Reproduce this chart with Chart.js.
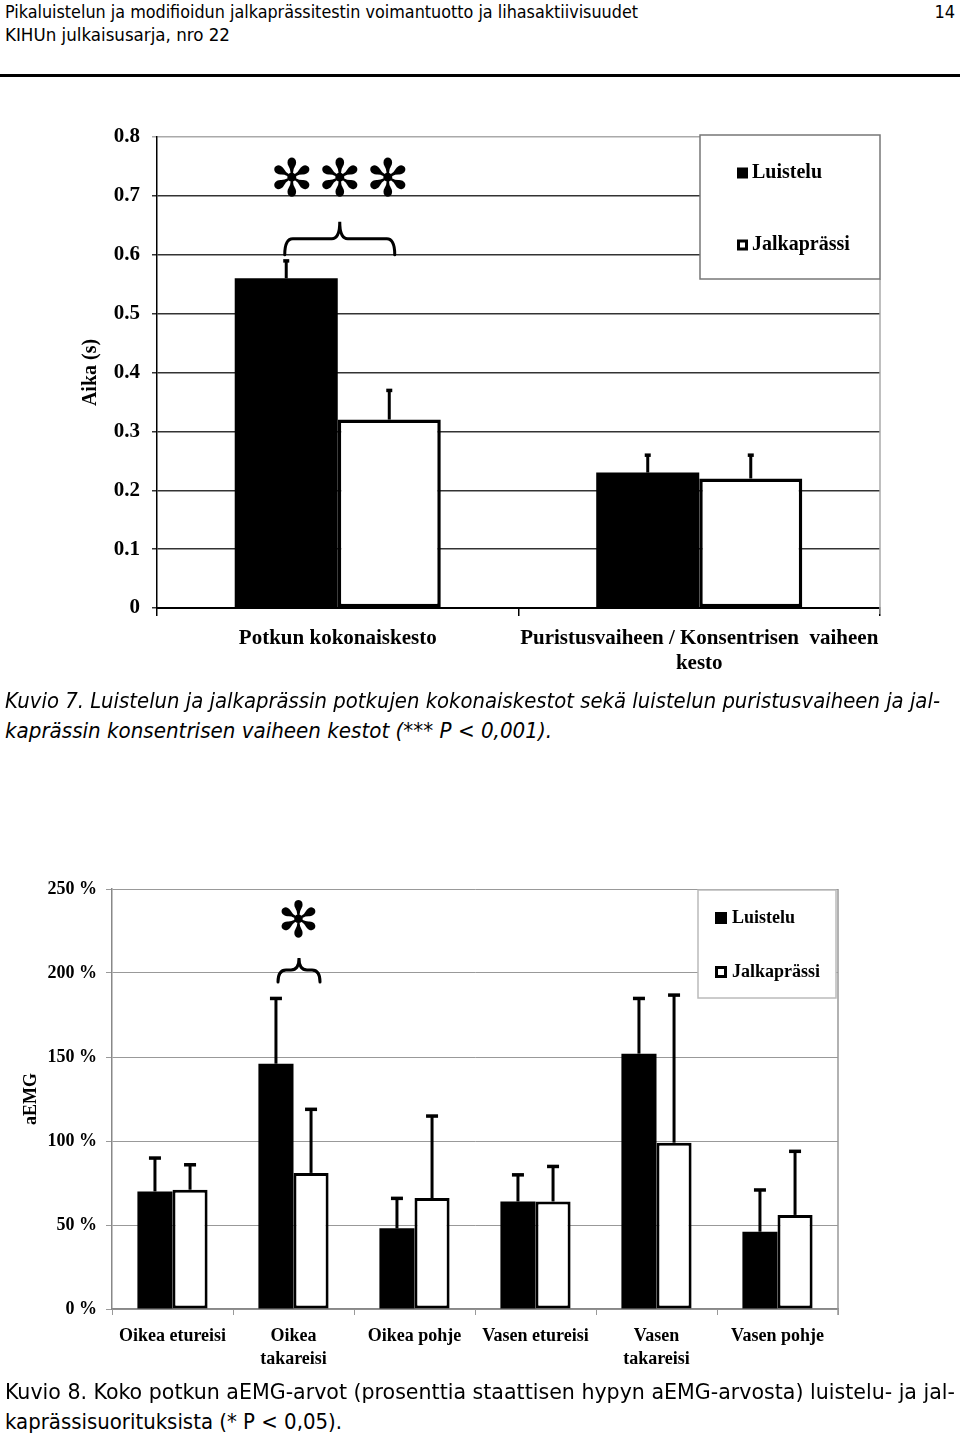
<!DOCTYPE html>
<html lang="fi">
<head>
<meta charset="utf-8">
<title>Kuvio 7 ja 8</title>
<script src="https://cdn.jsdelivr.net/npm/chart.js@4.4.1/dist/chart.umd.min.js"></script>
<style>
  html, body { margin: 0; padding: 0; background: #fff; }
  body { position: relative; width: 960px; height: 1440px; overflow: hidden; color: #000;
         font-family: "DejaVu Sans Condensed", "Liberation Sans Narrow", "DejaVu Sans", sans-serif; }
  .rivi { position: absolute; white-space: nowrap; transform-origin: 0 0; }
  .viiva { position: absolute; left: 0; top: 74px; width: 960px; height: 3px; background: #000; }
  .kuva { position: absolute; left: 0; }
</style>
</head>
<body>
<div class="rivi" data-w="633" style="left:5px;top:3px;font-size:18px;line-height:18px">Pikaluistelun ja modifioidun jalkaprässitestin voimantuotto ja lihasaktiivisuudet</div>
<div class="rivi" style="right:5px;top:3px;font-size:18px;line-height:18px">14</div>
<div class="rivi" data-w="225" style="left:5px;top:26px;font-size:18px;line-height:18px">KIHUn julkaisusarja, nro 22</div>
<div class="viiva"></div>

<canvas id="kuvio7" class="kuva" style="top:112px" width="960" height="580"></canvas>

<div class="rivi" data-w="935" style="left:5px;top:691px;font-size:21px;line-height:21px;font-style:italic">Kuvio 7. Luistelun ja jalkaprässin potkujen kokonaiskestot sekä luistelun puristusvaiheen ja jal-</div>
<div class="rivi" data-w="547" style="left:5px;top:721px;font-size:21px;line-height:21px;font-style:italic">kaprässin konsentrisen vaiheen kestot (*** P &lt; 0,001).</div>

<canvas id="kuvio8" class="kuva" style="top:862px" width="960" height="520"></canvas>

<div class="rivi" data-w="950" style="left:5px;top:1382px;font-size:21px;line-height:21px">Kuvio 8. Koko potkun aEMG-arvot (prosenttia staattisen hypyn aEMG-arvosta) luistelu- ja jal-</div>
<div class="rivi" data-w="337" style="left:5px;top:1412px;font-size:21px;line-height:21px">kaprässisuorituksista (* P &lt; 0,05).</div>

<script>
// Kuvio 7: kestot (s)
const kategoriat1 = ["Potkun kokonaiskesto", ["Puristusvaiheen / Konsentrisen  vaiheen", "kesto"]];
const luistelu1 = [0.56, 0.23];
const jalka1 = [0.32, 0.22];
const luisteluVirhe1 = [0.03, 0.03];
const jalkaVirhe1 = [0.05, 0.04];
const yTicks1 = ["0", "0.1", "0.2", "0.3", "0.4", "0.5", "0.6", "0.7", "0.8"];

// Kuvio 8: aEMG (%)
const kategoriat2 = ["Oikea etureisi", ["Oikea", "takareisi"], "Oikea pohje", "Vasen etureisi", ["Vasen", "takareisi"], "Vasen pohje"];
const luistelu2 = [70, 146, 48, 64, 152, 46];
const jalka2 = [71, 81, 66, 64, 99, 56];
const luisteluVirhe2 = [20, 39, 18, 16, 33, 25];
const jalkaVirhe2 = [15, 38, 49, 21, 88, 38];
const yTicks2 = ["0 %", "50 %", "100 %", "150 %", "200 %", "250 %"];

const serif = "Liberation Serif";

// rivien sovitus alkuperäiseen leveyteen
document.querySelectorAll(".rivi[data-w]").forEach(el => {
  const w = el.getBoundingClientRect().width;
  el.style.transform = "scaleX(" + (el.dataset.w / w) + ")";
});

function sulku(ctx, cx, half, yEnd, yFlat, yPeak) {
  const r = Math.min(8, yEnd - yFlat);
  ctx.beginPath();
  ctx.moveTo(cx - half, yEnd);
  ctx.quadraticCurveTo(cx - half, yFlat, cx - half + r, yFlat);
  ctx.lineTo(cx - r, yFlat);
  ctx.quadraticCurveTo(cx, yFlat, cx, yPeak);
  ctx.quadraticCurveTo(cx, yFlat, cx + r, yFlat);
  ctx.lineTo(cx + half - r, yFlat);
  ctx.quadraticCurveTo(cx + half, yFlat, cx + half, yEnd);
  ctx.stroke();
}

// virhepalkit, selite, sulku ja tähdet
const merkinnat = {
  id: "merkinnat",
  beforeDatasetsDraw(chart, args, o) {
    const { ctx, chartArea: a } = chart;
    ctx.save();
    ctx.strokeStyle = o.reunaVari;
    ctx.lineWidth = 1.5;
    ctx.beginPath();
    ctx.moveTo(a.right, a.top + o.reunaAlku);
    ctx.lineTo(a.right, a.bottom + 6);
    ctx.stroke();
    ctx.restore();
  },
  afterDatasetsDraw(chart, args, o) {
    const { ctx } = chart;
    const y = chart.scales.y;
    ctx.save();
    ctx.strokeStyle = "#000";
    ctx.fillStyle = "#000";
    ctx.lineWidth = o.virheLeveys;
    chart.data.datasets.forEach((ds, i) => {
      chart.getDatasetMeta(i).data.forEach((bar, j) => {
        const yt = y.getPixelForValue(ds.data[j] + ds.virhe[j]);
        ctx.beginPath();
        ctx.moveTo(bar.x, bar.y);
        ctx.lineTo(bar.x, yt);
        ctx.stroke();
        ctx.fillRect(bar.x - o.hattu, yt - 1.5, o.hattu * 2, 3.5);
      });
    });
    ctx.restore();
  },
  afterDraw(chart, args, o) {
    const { ctx, chartArea: a } = chart;
    const x = chart.scales.x, y = chart.scales.y;
    const s = o.selite;
    ctx.save();
    // selite
    const bx = a.right - s.oikea - s.w, by = a.top + s.dy;
    ctx.fillStyle = "#fff";
    ctx.fillRect(bx, by, s.w, s.h);
    ctx.strokeStyle = s.reuna;
    ctx.lineWidth = 1.5;
    ctx.strokeRect(bx, by, s.w, s.h);
    ctx.font = "bold " + s.koko + "px " + serif;
    ctx.textBaseline = "middle";
    ctx.textAlign = "left";
    chart.data.datasets.forEach((ds, i) => {
      const cy = by + s.rivit[i];
      const rx = bx + s.ruutuX;
      if (i === 0) {
        ctx.fillStyle = "#000";
        ctx.fillRect(rx, cy - s.ruutu / 2, s.ruutu, s.ruutu);
      } else {
        ctx.strokeStyle = "#000";
        ctx.lineWidth = 3;
        ctx.strokeRect(rx + 1.5, cy - s.ruutu / 2 + 1.5, s.ruutu - 3, s.ruutu - 3);
      }
      ctx.fillStyle = "#000";
      ctx.fillText(ds.label, bx + s.tekstiX, cy);
    });
    // sulku
    const b = o.sulku;
    const cx = x.getPixelForValue(b.indeksi) + b.dx;
    const yEnd = y.getPixelForValue(b.arvo);
    ctx.strokeStyle = "#000";
    ctx.lineWidth = 3;
    ctx.lineCap = "round";
    sulku(ctx, cx, b.puoli, yEnd, yEnd - b.nousu1, yEnd - b.nousu2);
    // tähdet
    const t = o.tahdet;
    ctx.font = t.koko + "px 'DejaVu Sans'";
    ctx.textAlign = "center";
    ctx.textBaseline = "middle";
    ctx.fillStyle = "#000";
    const ty = y.getPixelForValue(t.arvo);
    t.siirrot.forEach(d => ctx.fillText("\u273B", x.getPixelForValue(b.indeksi) + t.dx + d, ty));
    ctx.restore();
  }
};

new Chart(document.getElementById("kuvio7"), {
  type: "bar",
  data: {
    labels: kategoriat1,
    datasets: [
      { label: "Luistelu", data: luistelu1, virhe: luisteluVirhe1, backgroundColor: "#000", borderWidth: 0 },
      { label: "Jalkaprässi", data: jalka1, virhe: jalkaVirhe1, backgroundColor: "#fff",
        borderColor: "#000", borderWidth: 3.5, borderSkipped: false }
    ]
  },
  options: {
    responsive: false,
    animation: false,
    layout: { padding: { top: 25, right: 80, bottom: 0, left: 0 } },
    datasets: { bar: { categoryPercentage: 0.57, barPercentage: 1 } },
    plugins: {
      legend: { display: false },
      tooltip: { enabled: false },
      merkinnat: {
        reunaVari: "#aaa", reunaAlku: 142, virheLeveys: 3, hattu: 3,
        selite: { w: 180, h: 144, oikea: 0, dy: -2, reuna: "#777", koko: 20, ruutu: 11,
                  ruutuX: 37, tekstiX: 52, rivit: [38, 110] },
        sulku: { indeksi: 0, dx: 2, puoli: 55, arvo: 0.6, nousu1: 16, nousu2: 33 },
        tahdet: { koko: 52, arvo: 0.722, dx: 2, siirrot: [-48, 0, 48] }
      }
    },
    scales: {
      x: {
        grid: { drawOnChartArea: false, tickLength: 8, lineWidth: 1.5,
                color: c => (c.index === 2 ? "#aaa" : "#000") },
        border: { color: "#000", width: 2 },
        ticks: { color: "#000", padding: 11, maxRotation: 0, autoSkip: false,
                 font: { family: serif, size: 21, weight: "bold", lineHeight: 1.15 } },
        afterFit: s => { s.height = 84; }
      },
      y: {
        min: 0, max: 0.8,
        grid: { tickLength: 5, lineWidth: 1.5,
                color: c => (c.tick && c.tick.value > 0.75 ? "#aaa" : "#333") },
        border: { color: "#000", width: 1.5 },
        ticks: { stepSize: 0.1, padding: 12, color: "#000", callback: (v, i) => yTicks1[i],
                 font: { family: serif, size: 21, weight: "bold" } },
        title: { display: true, text: "Aika (s)", color: "#000", padding: { top: 78.5, bottom: 0 },
                 font: { family: serif, size: 20, weight: "bold", lineHeight: 1.2 } },
        afterFit: s => { s.width = 157; }
      }
    }
  },
  plugins: [merkinnat]
});

new Chart(document.getElementById("kuvio8"), {
  type: "bar",
  data: {
    labels: kategoriat2,
    datasets: [
      { label: "Luistelu", data: luistelu2, virhe: luisteluVirhe2, backgroundColor: "#000", borderWidth: 0 },
      { label: "Jalkaprässi", data: jalka2, virhe: jalkaVirhe2, backgroundColor: "#fff",
        borderColor: "#000", borderWidth: 3, borderSkipped: false }
    ]
  },
  options: {
    responsive: false,
    animation: false,
    layout: { padding: { top: 27, right: 122, bottom: 0, left: 0 } },
    datasets: { bar: { categoryPercentage: 0.58, barPercentage: 1 } },
    plugins: {
      legend: { display: false },
      tooltip: { enabled: false },
      merkinnat: {
        reunaVari: "#999", reunaAlku: 0, virheLeveys: 3, hattu: 6,
        selite: { w: 138, h: 108, oikea: 2, dy: 1, reuna: "#bbb", koko: 18, ruutu: 12,
                  ruutuX: 17, tekstiX: 34, rivit: [28, 82] },
        sulku: { indeksi: 1, dx: 5.5, puoli: 21, arvo: 194.6, nousu1: 12, nousu2: 24 },
        tahdet: { koko: 50, arvo: 229, dx: 5, siirrot: [0] }
      }
    },
    scales: {
      x: {
        grid: { drawOnChartArea: false, tickLength: 6, lineWidth: 1, color: "#999" },
        border: { color: "#888", width: 1.5 },
        ticks: { color: "#000", padding: 10, maxRotation: 0, autoSkip: false,
                 font: { family: serif, size: 18, weight: "bold", lineHeight: 1.28 } },
        afterFit: s => { s.height = 73; }
      },
      y: {
        min: 0, max: 250,
        grid: { tickLength: 6, lineWidth: 1, color: "#999" },
        border: { color: "#888", width: 1.5 },
        ticks: { stepSize: 50, padding: 9, color: "#000", callback: (v, i) => yTicks2[i],
                 font: { family: serif, size: 18, weight: "bold" } },
        title: { display: true, text: "aEMG", color: "#000", padding: { top: 21, bottom: 0 },
                 font: { family: serif, size: 18, weight: "bold", lineHeight: 1.2 } },
        afterFit: s => { s.width = 112; }
      }
    }
  },
  plugins: [merkinnat]
});
</script>
</body>
</html>
